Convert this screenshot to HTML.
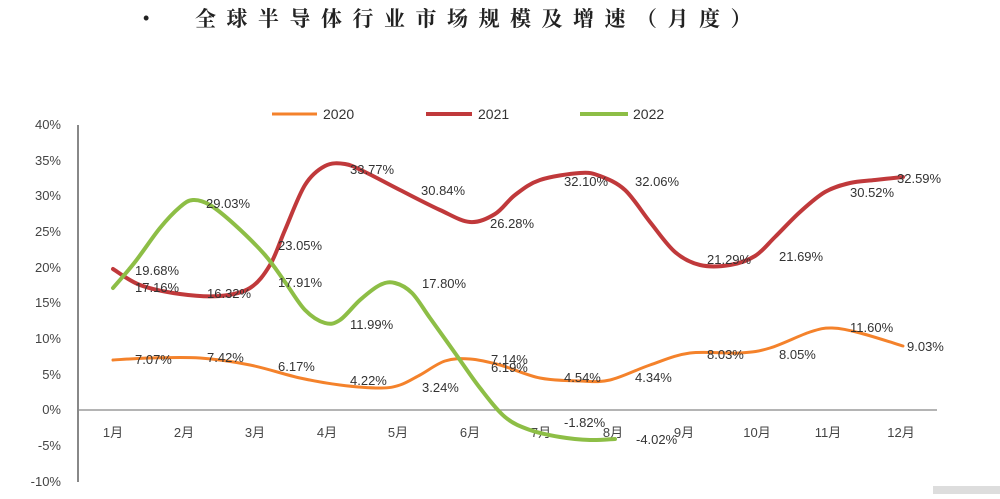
<!DOCTYPE html>
<html><head><meta charset="utf-8"><style>
body{margin:0;background:#fff;width:1000px;height:494px;overflow:hidden}
svg text{font-family:"Liberation Sans",Arial,sans-serif;}
</style></head><body>
<svg width="1000" height="494" viewBox="0 0 1000 494" xmlns="http://www.w3.org/2000/svg">
<text x="143" y="24" font-size="18" fill="#222">•</text>
<text x="195" y="26" font-size="21" font-weight="bold" letter-spacing="10.5" fill="#222" style='font-family:"Noto Serif CJK SC","Noto Sans CJK SC",serif'>全球半导体行业市场规模及增速（月度）</text>
<line x1="272" y1="114" x2="317" y2="114" stroke="#F4822B" stroke-width="3"/>
<text x="323" y="119" font-size="14" fill="#333">2020</text>
<line x1="426" y1="114" x2="472" y2="114" stroke="#C0393B" stroke-width="4"/>
<text x="478" y="119" font-size="14" fill="#333">2021</text>
<line x1="580" y1="114" x2="628" y2="114" stroke="#8DBE46" stroke-width="4"/>
<text x="633" y="119" font-size="14" fill="#333">2022</text>
<line x1="78" y1="125" x2="78" y2="482" stroke="#888" stroke-width="2"/>
<line x1="78" y1="410" x2="937" y2="410" stroke="#888" stroke-width="1.2"/>
<g font-size="13" fill="#444" text-anchor="end">
<text x="61" y="129">40%</text><text x="61" y="165">35%</text><text x="61" y="200">30%</text><text x="61" y="236">25%</text><text x="61" y="272">20%</text><text x="61" y="307">15%</text><text x="61" y="343">10%</text><text x="61" y="379">5%</text><text x="61" y="414">0%</text><text x="61" y="450">-5%</text><text x="61" y="486">-10%</text>
</g>
<g font-size="13" fill="#444" text-anchor="middle">
<text x="113" y="437">1月</text><text x="184" y="437">2月</text><text x="255" y="437">3月</text><text x="327" y="437">4月</text><text x="398" y="437">5月</text><text x="470" y="437">6月</text><text x="541" y="437">7月</text><text x="613" y="437">8月</text><text x="684" y="437">9月</text><text x="757" y="437">10月</text><text x="828" y="437">11月</text><text x="901" y="437">12月</text>
</g>
<g fill="none" stroke-linejoin="round" stroke-linecap="round">
<path id="o" stroke="#F4822B" stroke-width="3" data-p="113,360 150,358 200,358 250,365 300,378 340,385 380,388 400,385 420,375 445,361 470,359 500,365 540,378 580,381 610,380 650,365 690,353 740,353 770,348 810,332 832,328 860,333 903,346"/>
<path id="r" stroke="#C0393B" stroke-width="4" data-p="113,269 140,285 180,294 220,296 250,288 270,265 285,230 305,185 325,166 345,164 365,172 400,190 440,210 470,222 495,214 515,195 540,180 580,173 600,176 625,190 650,222 675,252 700,265 730,265 755,256 775,237 800,212 825,192 850,183 875,180 903,177"/>
<path id="g" stroke="#8DBE46" stroke-width="4" data-p="113,288 135,262 160,228 180,207 193,200 210,205 235,225 265,255 285,282 305,310 325,323 340,320 360,300 380,285 395,283 412,293 430,318 455,353 480,388 505,417 530,430 560,437 590,440 615,439"/>
</g>
<g font-size="13" fill="#333">
<text x="135" y="275">19.68%</text><text x="135" y="292">17.16%</text><text x="207" y="298">16.32%</text>
<text x="278" y="250">23.05%</text><text x="278" y="287">17.91%</text>
<text x="350" y="174">33.77%</text><text x="421" y="195">30.84%</text><text x="490" y="228">26.28%</text>
<text x="564" y="186">32.10%</text><text x="635" y="186">32.06%</text>
<text x="707" y="264">21.29%</text><text x="779" y="261">21.69%</text>
<text x="850" y="197">30.52%</text><text x="897" y="183">32.59%</text>
<text x="206" y="208">29.03%</text><text x="350" y="329">11.99%</text><text x="422" y="288">17.80%</text>
<text x="564" y="427">-1.82%</text><text x="636" y="444">-4.02%</text>
<text x="135" y="364">7.07%</text><text x="207" y="362">7.42%</text><text x="278" y="371">6.17%</text>
<text x="350" y="385">4.22%</text><text x="422" y="392">3.24%</text>
<text x="491" y="364">7.14%</text><text x="491" y="372">6.19%</text>
<text x="564" y="382">4.54%</text><text x="635" y="382">4.34%</text>
<text x="707" y="359">8.03%</text><text x="779" y="359">8.05%</text>
<text x="850" y="332">11.60%</text><text x="907" y="351">9.03%</text>
</g>
<rect x="933" y="486" width="67" height="8" fill="#ddd"/>
</svg>
<script>
["o","r","g"].forEach(function(id){
var el=document.getElementById(id);
var p=el.getAttribute("data-p").split(" ").map(function(s){return s.split(",").map(Number);});
var d="M"+p[0][0]+","+p[0][1];
for(var i=0;i<p.length-1;i++){
var p0=p[i-1]||p[i],p1=p[i],p2=p[i+1],p3=p[i+2]||p2;
var c1x=p1[0]+(p2[0]-p0[0])/6,c1y=p1[1]+(p2[1]-p0[1])/6;
var c2x=p2[0]-(p3[0]-p1[0])/6,c2y=p2[1]-(p3[1]-p1[1])/6;
d+=" C"+c1x+","+c1y+" "+c2x+","+c2y+" "+p2[0]+","+p2[1];
}
el.setAttribute("d",d);
});
</script>
</body></html>
